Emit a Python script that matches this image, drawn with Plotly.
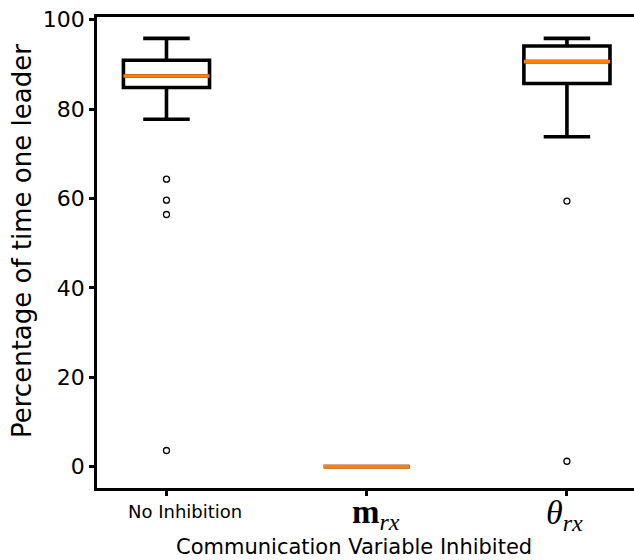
import plotly.graph_objects as go

# Box statistics per condition (percentage of time with a single leader)
positions = [1, 2, 3]
labels = [
    "No Inhibition",
    "<b>m</b><sub><i><span style='font-size:24px'>rx</span></i></sub>",
    "<i>θ</i><sub><i><span style='font-size:24px'>rx</span></i></sub>",
]
q1 = [84.8, 0.0, 85.7]
median = [87.4, 0.0, 90.6]
q3 = [90.9, 0.0, 94.1]
lower_whisker = [77.7, 0.0, 73.8]
upper_whisker = [95.8, 0.0, 95.8]
outliers = [[64.3, 59.6, 56.4, 3.6], [], [59.4, 1.2]]

BOX_WIDTH = 0.43
fig = go.Figure()

fig.add_trace(go.Box(
    x=positions, q1=q1, median=median, q3=q3,
    lowerfence=lower_whisker, upperfence=upper_whisker,
    width=BOX_WIDTH, whiskerwidth=0.54,
    line=dict(color="black", width=3.6),
    fillcolor="rgba(0,0,0,0)",
    boxpoints=False, showlegend=False, hoverinfo="skip",
))

# Orange median lines drawn over each box
for p, m in zip(positions, median):
    fig.add_trace(go.Scatter(
        x=[p - BOX_WIDTH / 2, p + BOX_WIDTH / 2], y=[m, m], mode="lines",
        line=dict(color="#ff7f0e", width=3.6), showlegend=False, hoverinfo="skip",
    ))

# Outlier points
ox, oy = [], []
for p, vals in zip(positions, outliers):
    ox += [p] * len(vals)
    oy += vals
fig.add_trace(go.Scatter(
    x=ox, y=oy, mode="markers",
    marker=dict(symbol="circle-open", size=6, color="black", line=dict(width=1.3)),
    showlegend=False, hoverinfo="skip",
))

# Category labels under the ticks
label_fonts = [
    dict(family="DejaVu Sans", size=18, color="black"),
    dict(family="Liberation Serif", size=33, color="black"),
    dict(family="Liberation Serif", size=34, color="black"),
]
label_shift = [19, 9, -2]
label_y = [-11, -4, -4]
for p, t, f, dx, dy in zip(positions, labels, label_fonts, label_shift, label_y):
    fig.add_annotation(x=p, y=0, xref="x", yref="paper", text=t, showarrow=False,
                       xanchor="center", yanchor="top", xshift=dx, yshift=dy, font=f)

fig.add_annotation(x=0.4786, y=0, xref="paper", yref="paper",
                   text="Communication Variable Inhibited", showarrow=False,
                   xanchor="center", yanchor="middle", yshift=-59,
                   font=dict(family="DejaVu Sans", size=21, color="black"))
fig.add_annotation(x=0, y=0.5244, xref="paper", yref="paper",
                   text="Percentage of time one leader", showarrow=False, textangle=-90,
                   xanchor="center", yanchor="middle", xshift=-75,
                   font=dict(family="DejaVu Sans", size=26, color="black"))

fig.update_layout(
    width=634, height=560,
    margin=dict(l=97, r=0, t=17, b=72),
    plot_bgcolor="white", paper_bgcolor="white",
    font=dict(family="DejaVu Sans", color="black"),
)
fig.update_xaxes(
    range=[0.653, 3.335], tickvals=positions, showticklabels=False,
    ticks="outside", ticklen=5, tickwidth=3, tickcolor="black",
    showline=True, linecolor="black", linewidth=2.5, mirror=True,
    showgrid=False, zeroline=False,
)
fig.update_yaxes(
    range=[-4.79, 100.59], tickvals=[0, 20, 40, 60, 80, 100],
    ticks="outside", ticklen=5, tickwidth=3, tickcolor="black",
    tickfont=dict(family="DejaVu Sans", size=22, color="black"),
    showline=True, linecolor="black", linewidth=2.5, mirror=False,
    showgrid=False, zeroline=False,
)

fig.write_html("out.html")
